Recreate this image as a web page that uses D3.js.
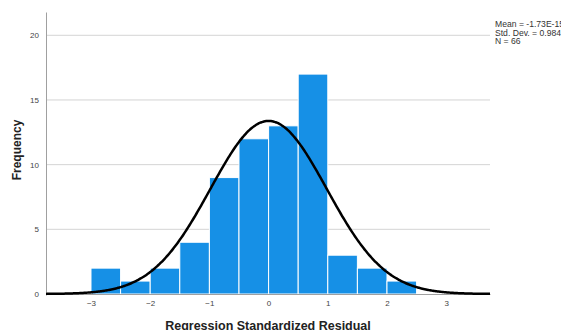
<!DOCTYPE html>
<html>
<head>
<meta charset="utf-8">
<script src="https://cdn.jsdelivr.net/npm/d3@7"></script>
<style>
  body { margin: 0; background: #fff; }
  text { font-family: Arial, "Liberation Sans", sans-serif; }
</style>
</head>
<body id="body">
<svg></svg>
<script>
var width = 561;
var height = 330;

// histogram bins (lower edge) and counts
var binStarts = [-3, -2.5, -2, -1.5, -1, -0.5, 0, 0.5, 1, 1.5, 2];
var counts = [2, 1, 2, 4, 9, 12, 13, 17, 3, 2, 1];
var binWidth = 0.5;
var xTicks = [-3, -2, -1, 0, 1, 2, 3];
var yTicks = [0, 5, 10, 15, 20];
var mean = 0;
var sd = 0.984;
var n = 66;
var legendLines = ["Mean = -1.73E-15", "Std. Dev. = 0.984", "N = 66"];

var svg = d3.select("svg")
  .attr("width", width)
  .attr("height", height);

var x = d3.scaleLinear().domain([-3.76, 3.74]).range([46, 490]);
var y = d3.scaleLinear().domain([0, 21.8]).range([294, 12]);

// gridlines
svg.append("g")
  .selectAll("line")
  .data(yTicks.filter(function (d) { return d > 0; }))
  .enter().append("line")
  .attr("x1", x.range()[0])
  .attr("x2", x.range()[1])
  .attr("y1", y)
  .attr("y2", y)
  .attr("stroke", "#d4d4d4")
  .attr("stroke-width", 1);

// y axis
var yAxis = svg.append("g")
  .attr("transform", "translate(46,0)")
  .call(d3.axisLeft(y).tickValues(yTicks).tickSize(0).tickPadding(7));
yAxis.select(".domain").attr("stroke", "#a0a0a0");
yAxis.selectAll("text").attr("font-size", 8).attr("fill", "#444");

// bars
svg.append("g")
  .selectAll("rect")
  .data(counts)
  .enter().append("rect")
  .attr("x", function (d, i) { return x(binStarts[i]); })
  .attr("width", function (d, i) { return x(binStarts[i] + binWidth) - x(binStarts[i]); })
  .attr("y", function (d) { return y(d); })
  .attr("height", function (d) { return y(0) - y(d); })
  .attr("fill", "#1690e6")
  .attr("stroke", "#ffffff")
  .attr("stroke-width", 1);

// x axis
var xAxis = svg.append("g")
  .attr("transform", "translate(0,294)")
  .call(d3.axisBottom(x).tickValues(xTicks).tickSize(0).tickPadding(6)
    .tickFormat(d3.format("d")));
xAxis.select(".domain").attr("stroke", "#a0a0a0");
xAxis.selectAll("text").attr("font-size", 8).attr("fill", "#444");

// normal curve
var curveX = d3.range(-3.76, 3.741, 0.02);
var scaleFactor = n * binWidth / (sd * Math.sqrt(2 * Math.PI));
var line = d3.line()
  .x(function (d) { return x(d); })
  .y(function (d) {
    var z = (d - mean) / sd;
    return y(scaleFactor * Math.exp(-0.5 * z * z));
  })
  .curve(d3.curveBasis);
svg.append("path")
  .datum(curveX)
  .attr("d", line)
  .attr("fill", "none")
  .attr("stroke", "#000")
  .attr("stroke-width", 2.5);

// legend
svg.append("g")
  .selectAll("text")
  .data(legendLines)
  .enter().append("text")
  .attr("x", 495)
  .attr("y", function (d, i) { return 27 + i * 8.5; })
  .attr("font-size", 8.6)
  .attr("fill", "#333")
  .text(function (d) { return d; });

// axis titles
svg.append("text")
  .attr("x", 268)
  .attr("y", 329.5)
  .attr("text-anchor", "middle")
  .attr("font-size", 12.5)
  .attr("font-weight", "bold")
  .attr("fill", "#222")
  .text("Regression Standardized Residual");

svg.append("text")
  .attr("transform", "translate(21,150) rotate(-90)")
  .attr("text-anchor", "middle")
  .attr("font-size", 12)
  .attr("font-weight", "bold")
  .attr("fill", "#222")
  .text("Frequency");
</script>
</body>
</html>
